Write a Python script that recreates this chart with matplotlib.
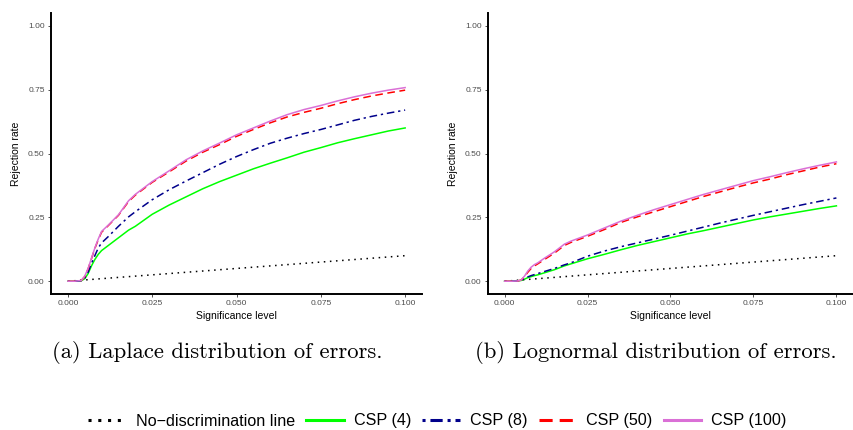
import matplotlib
matplotlib.use("Agg")
import matplotlib.pyplot as plt
from matplotlib.lines import Line2D

plt.rcParams['font.family'] = ['Liberation Sans', 'DejaVu Sans']

alpha = [0.000, 0.002, 0.004, 0.005, 0.006, 0.007, 0.008, 0.009, 0.010, 0.012,
         0.015, 0.018, 0.020, 0.025, 0.030, 0.035, 0.040, 0.045, 0.050, 0.055,
         0.060, 0.065, 0.070, 0.075, 0.080, 0.085, 0.090, 0.095, 0.100]

# no-discrimination line
nd_x = [0.0, 0.1]
nd_y = [0.0, 0.1]

# (a) Laplace
lap_csp4 = [0, 0, 0.002, 0.010, 0.030, 0.060, 0.085, 0.105, 0.120, 0.140,
            0.170, 0.200, 0.215, 0.262, 0.298, 0.330, 0.362, 0.390, 0.415, 0.440,
            0.462, 0.483, 0.505, 0.523, 0.542, 0.558, 0.573, 0.588, 0.600]
lap_csp8 = [0, 0, 0.002, 0.012, 0.035, 0.070, 0.100, 0.130, 0.150, 0.175,
            0.215, 0.252, 0.272, 0.319, 0.358, 0.392, 0.425, 0.458, 0.488, 0.515,
            0.540, 0.560, 0.578, 0.594, 0.612, 0.630, 0.645, 0.658, 0.670]
lap_csp50 = [0, 0, 0.003, 0.018, 0.048, 0.088, 0.128, 0.162, 0.192, 0.218,
             0.258, 0.312, 0.337, 0.387, 0.428, 0.470, 0.505, 0.535, 0.567, 0.594,
             0.620, 0.643, 0.661, 0.677, 0.695, 0.711, 0.725, 0.737, 0.748]
lap_csp100 = [0, 0, 0.003, 0.020, 0.050, 0.090, 0.130, 0.165, 0.195, 0.220,
              0.260, 0.315, 0.340, 0.390, 0.432, 0.475, 0.510, 0.541, 0.573, 0.600,
              0.627, 0.652, 0.672, 0.688, 0.706, 0.722, 0.736, 0.748, 0.758]

# (b) Lognormal
log_csp4 = [0, 0, 0.001, 0.003, 0.008, 0.014, 0.018, 0.022, 0.025, 0.033,
            0.045, 0.060, 0.068, 0.088, 0.105, 0.123, 0.140, 0.155, 0.170, 0.185,
            0.198, 0.212, 0.226, 0.240, 0.252, 0.263, 0.274, 0.285, 0.295]
log_csp8 = [0, 0, 0.001, 0.004, 0.010, 0.017, 0.022, 0.026, 0.030, 0.038,
            0.050, 0.064, 0.072, 0.098, 0.118, 0.135, 0.150, 0.165, 0.180, 0.196,
            0.212, 0.228, 0.243, 0.258, 0.272, 0.286, 0.300, 0.313, 0.326]
log_csp50 = [0, 0, 0.001, 0.005, 0.018, 0.035, 0.050, 0.060, 0.068, 0.085,
             0.110, 0.140, 0.152, 0.176, 0.202, 0.230, 0.252, 0.272, 0.292, 0.312,
             0.332, 0.350, 0.368, 0.385, 0.400, 0.417, 0.432, 0.447, 0.460]
log_csp100 = [0, 0, 0.001, 0.005, 0.020, 0.040, 0.055, 0.065, 0.072, 0.090,
              0.115, 0.145, 0.157, 0.181, 0.208, 0.235, 0.258, 0.280, 0.300, 0.320,
              0.340, 0.358, 0.376, 0.394, 0.409, 0.425, 0.440, 0.454, 0.467]

x_ticks = [0.000, 0.025, 0.050, 0.075, 0.100]
x_labels = ["0.000", "0.025", "0.050", "0.075", "0.100"]
y_ticks = [0.00, 0.25, 0.50, 0.75, 1.00]
y_labels = ["0.00", "0.25", "0.50", "0.75", "1.00"]

captions = ["(a) Laplace distribution of errors.", "(b) Lognormal distribution of errors."]
legend_labels = ["No\u2212discrimination line", "CSP (4)", "CSP (8)", "CSP (50)", "CSP (100)"]

col_nd = "black"
col4 = "#00FF00"
col8 = "#00008B"
col50 = "#FF0000"
col100 = "#DA70D6"
lw = 1.1
dash50 = (5, 3)
dash8 = (1.5, 2.5, 5, 2.5)

fig = plt.figure(figsize=(8.54, 4.30), dpi=100)
W, H = 854.0, 430.0
ax1 = fig.add_axes([51 / W, (H - 294) / H, (422 - 51) / W, (294 - 13) / H])
ax2 = fig.add_axes([488 / W, (H - 294) / H, (853 - 488) / W, (294 - 13) / H])

panels = [(ax1, lap_csp4, lap_csp8, lap_csp50, lap_csp100),
          (ax2, log_csp4, log_csp8, log_csp50, log_csp100)]

for ax, c4, c8, c50, c100 in panels:
    ax.plot(nd_x, nd_y, color=col_nd, lw=lw, ls=(0, (1, 3)))
    ax.plot(alpha, c4, color=col4, lw=lw)
    ax.plot(alpha, c8, color=col8, lw=lw, ls=(0, dash8))
    ax.plot(alpha, c50, color=col50, lw=lw, ls=(0, dash50))
    ax.plot(alpha, c100, color=col100, lw=lw)
    ax.set_xlim(-0.005, 0.105)
    ax.set_ylim(-0.05, 1.05)
    ax.set_xticks(x_ticks)
    ax.set_xticklabels(x_labels)
    ax.set_yticks(y_ticks)
    ax.set_yticklabels(y_labels)
    ax.tick_params(labelsize=6, labelcolor="#4D4D4D", color="#333333",
                   length=2.5, width=0.6, pad=2)
    for s in ["top", "right"]:
        ax.spines[s].set_visible(False)
    for s in ["left", "bottom"]:
        ax.spines[s].set_linewidth(1.4)
    ax.set_xlabel("Significance level", fontsize=7.5, labelpad=3)
    ax.set_ylabel("Rejection rate", fontsize=7.5, labelpad=5)

# captions, sized so caption (a) spans about 330 px like the original
cap_a = fig.text(52 / W, 1 - 358 / H, captions[0], family="cmr10", fontsize=14, va="baseline")
cap_b = fig.text(475 / W, 1 - 358 / H, captions[1], family="cmr10", fontsize=14, va="baseline")
renderer = fig.canvas.get_renderer()
w = cap_a.get_window_extent(renderer).width
fs = 14 * 330.0 / w
cap_a.set_fontsize(fs)
cap_b.set_fontsize(fs)

handles = [Line2D([], [], color=col_nd, lw=2.2, ls=(0, (1, 2.2))),
           Line2D([], [], color=col4, lw=2.2),
           Line2D([], [], color=col8, lw=2.2, ls=(0, (1, 1.6, 4, 1.6))),
           Line2D([], [], color=col50, lw=2.2, ls=(0, (4.3, 2.3))),
           Line2D([], [], color=col100, lw=2.2)]
fig.legend(handles, legend_labels, loc="center", bbox_to_anchor=(437.5 / W, 1 - 421 / H),
           ncol=5, frameon=False, fontsize=11.6, handlelength=2.35, handletextpad=0.62,
           columnspacing=0.68, borderpad=0.2)

fig.savefig("out.png", dpi=100)
